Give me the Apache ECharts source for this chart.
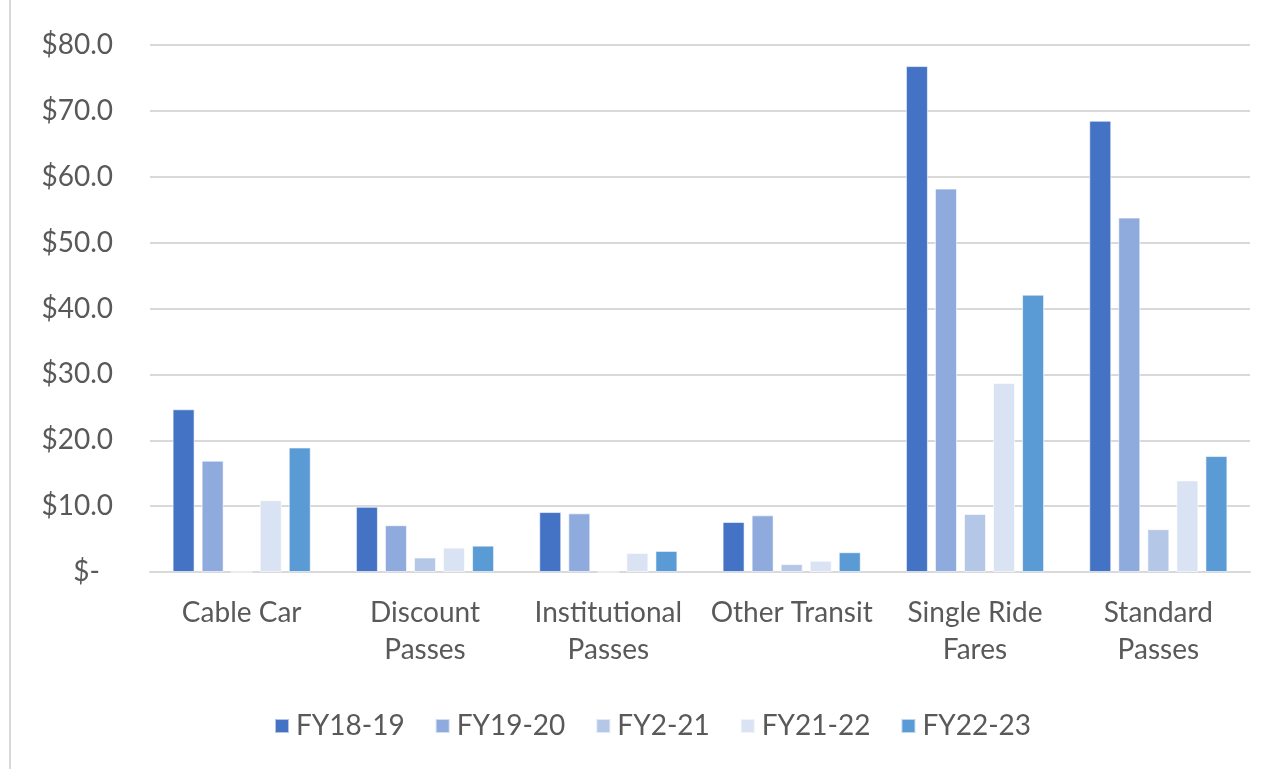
<!DOCTYPE html>
<html>
<head>
<meta charset="utf-8">
<script src="https://cdn.jsdelivr.net/npm/echarts@6/dist/echarts.min.js"></script>
<style>
  html, body { margin: 0; padding: 0; background: #fff; }
  #chart { height: 769px; box-sizing: border-box; border-left: 2px solid #d9d9d9; margin-left: 9px; width: 1264px; }
</style>
</head>
<body>
<div id="chart"></div>
<script>
// categories and values (millions of dollars)
const categories = ['Cable Car', 'Discount\nPasses', 'Institutional\nPasses', 'Other Transit', 'Single Ride\nFares', 'Standard\nPasses'];
const seriesNames = ['FY18-19', 'FY19-20', 'FY2-21', 'FY21-22', 'FY22-23'];
const fy1819 = [24.7, 9.9, 9.1, 7.6, 76.8, 68.5];
const fy1920 = [16.9, 7.1, 8.9, 8.6, 58.2, 53.8];
const fy2021 = [0, 2.2, 0, 1.2, 8.8, 6.5];
const fy2122 = [10.9, 3.7, 2.9, 1.7, 28.7, 13.9];
const fy2223 = [18.9, 4.0, 3.2, 3.0, 42.1, 17.6];
const colors = ['#4472C4', '#8FAADC', '#B4C7E7', '#DAE3F3', '#5B9BD5'];

const allValues = [fy1819, fy1920, fy2021, fy2122, fy2223];
const font = 'Lato, "Open Sans", sans-serif';
const fs = 28;

const chart = echarts.init(document.getElementById('chart'));

chart.setOption({
    animation: false,
    color: colors,
    grid: {left: 139, right: 23, top: 45, bottom: 197},
    legend: {
        data: seriesNames,
        left: 258,
        top: 707,
        itemWidth: 14,
        itemHeight: 14,
        itemGap: 30,
        icon: 'rect',
        textStyle: {fontFamily: font, fontSize: fs, color: '#595959', padding: [0, 0, 0, 2]}
    },
    xAxis: {
        type: 'category',
        data: categories,
        axisLine: {lineStyle: {color: '#d9d9d9', width: 2}},
        axisTick: {show: false},
        axisLabel: {fontFamily: font, fontSize: fs, color: '#595959', lineHeight: 37, margin: 22, interval: 0}
    },
    yAxis: {
        type: 'value',
        min: 0,
        max: 80,
        interval: 10,
        axisLine: {show: false},
        axisTick: {show: false},
        splitLine: {lineStyle: {color: '#d9d9d9', width: 2}},
        axisLabel: {
            fontFamily: font, fontSize: fs, color: '#595959', margin: 37,
            formatter: v => v === 0 ? '{d|$-}' : '$' + v.toFixed(1),
            rich: {d: {fontFamily: font, fontSize: fs, color: '#595959', padding: [0, 13, 0, 0]}}
        }
    },
    series: seriesNames.map((name, i) => ({
        name: name,
        type: 'bar',
        data: allValues[i],
        barWidth: 22,
        barGap: '32%',
        itemStyle: {color: colors[i], borderColor: 'rgba(255,255,255,0.6)', borderWidth: 1}
    }))
});
</script>
</body>
</html>
